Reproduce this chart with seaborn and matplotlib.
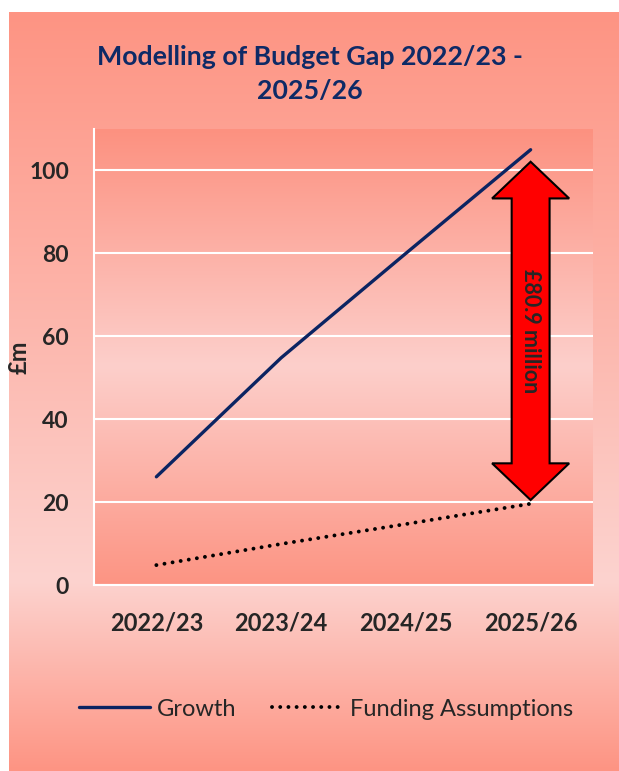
import numpy as np
import pandas as pd
import matplotlib.pyplot as plt
from matplotlib.patches import Polygon
from matplotlib.colors import to_rgb
import seaborn as sns

years = ['2022/23', '2023/24', '2024/25', '2025/26']
growth = [26.1, 54.8, 80.0, 105.0]
funding = [4.8, 9.9, 14.7, 19.6]
gap_label = '£80.9 million'
gap_top = 102.1
gap_bottom = 20.5

df = pd.DataFrame({'year': years, 'Growth': growth, 'Funding Assumptions': funding})

sns.set_style('white')
plt.rcParams['font.family'] = ['Lato', 'DejaVu Sans']

W, H = 619, 771
fig = plt.figure(figsize=(W / 100, H / 100), dpi=100)
fig.patch.set_facecolor('white')


def gradient(stops, n=400):
    pos = np.linspace(0, 1, n)
    cols = np.array([to_rgb(c) for _, c in stops])
    ps = [p for p, _ in stops]
    rgb = np.stack([np.interp(pos, ps, cols[:, i]) for i in range(3)], axis=1)
    return rgb[:, None, :]


salmon = '#FE9483'
light = '#FCD3CF'

# panel background
bg = fig.add_axes([0, 0, 1, 1], zorder=-10)
bg.imshow(gradient([(0, salmon), (0.75, light), (1, salmon)]),
          extent=(9, W, H, 12), aspect='auto')
bg.set_xlim(0, W)
bg.set_ylim(H, 0)
bg.axis('off')

ax = fig.add_axes([94 / W, 1 - 585 / H, 499 / W, 456 / H])
ax.set_facecolor('none')
ax.imshow(gradient([(0, '#FD9180'), (0.52, '#FCCFCB'), (1, '#FD9483')]),
          extent=(0, 1, 0, 1), transform=ax.transAxes, aspect='auto', zorder=0)

navy = '#0B2462'
sns.lineplot(data=df, x='year', y='Growth', ax=ax, color=navy, lw=2.4,
             sort=False, label='Growth', zorder=3)
sns.lineplot(data=df, x='year', y='Funding Assumptions', ax=ax, color='black',
             lw=2.8, sort=False, label='Funding Assumptions', zorder=3,
             dashes=False)
fund_line = ax.get_lines()[-1]
fund_line.set_dashes((0.01, 2.1))
fund_line.set_dash_capstyle('round')
ax.get_lines()[0].set_solid_capstyle('round')

ax.set_xlim(-0.5, len(years) - 0.5)
ax.set_ylim(0, 110)
ax.set_yticks([0, 20, 40, 60, 80, 100])
ax.yaxis.grid(True, color='white', lw=1.5)
ax.set_axisbelow(True)
for s in ['top', 'right']:
    ax.spines[s].set_visible(False)
for s in ['left', 'bottom']:
    ax.spines[s].set_color('white')
    ax.spines[s].set_linewidth(1.5)
ax.tick_params(length=0)
ax.tick_params(axis='y', pad=18, labelsize=16.5)
ax.tick_params(axis='x', pad=19, labelsize=17)
for t in ax.get_xticklabels() + ax.get_yticklabels():
    t.set_fontweight('bold')
ax.set_xlabel('')
ax.set_ylabel('£m', fontsize=17, fontweight='bold')
ax.yaxis.set_label_coords(-0.128, 0.5)

# double-headed gap arrow
xc = len(years) - 1
sw, hw, hl = 0.152, 0.309, 8.85
pts = [(xc, gap_top), (xc + hw, gap_top - hl), (xc + sw, gap_top - hl),
       (xc + sw, gap_bottom + hl), (xc + hw, gap_bottom + hl), (xc, gap_bottom),
       (xc - hw, gap_bottom + hl), (xc - sw, gap_bottom + hl),
       (xc - sw, gap_top - hl), (xc - hw, gap_top - hl)]
ax.add_patch(Polygon(pts, closed=True, facecolor='#FF0000', edgecolor='black',
                     lw=1.5, zorder=4))
ax.text(xc, (gap_top + gap_bottom) / 2, gap_label, rotation=-90, ha='center',
        va='center', fontsize=15.5, fontweight='bold', zorder=5)

ax.get_legend().remove()
handles, labels = ax.get_legend_handles_labels()
fig.legend(handles, labels, loc='center', bbox_to_anchor=(326 / W, 1 - 709 / H),
           ncol=2, frameon=False, fontsize=17, handlelength=3.0,
           handletextpad=0.3, columnspacing=1.5)

fig.text(310 / W, 1 - 74 / H, 'Modelling of Budget Gap 2022/23 -\n2025/26',
         ha='center', va='center', fontsize=19.3, fontweight='bold',
         color='#0E2A66', linespacing=1.5)

fig.savefig('out.png', dpi=100)
